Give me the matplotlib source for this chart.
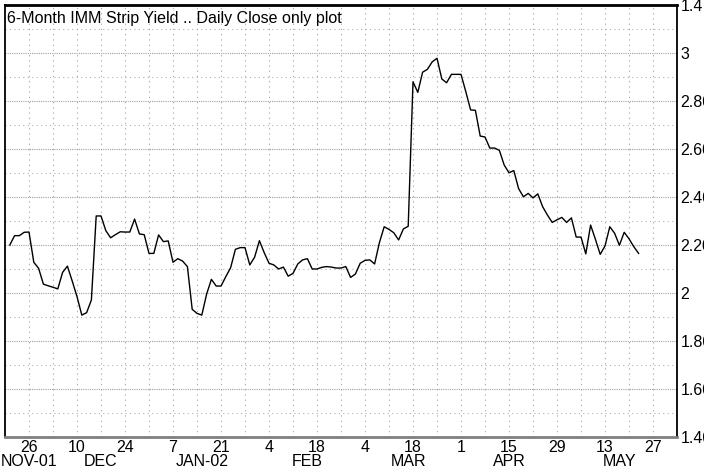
import numpy as np
import pandas as pd
import matplotlib
matplotlib.use("Agg")
import matplotlib.pyplot as plt
from matplotlib.ticker import FixedLocator, MultipleLocator
from matplotlib.transforms import blended_transform_factory

plt.rcParams['font.family'] = ['Liberation Sans', 'DejaVu Sans']

# Weekday axis: first and last slots of the chart window
axis_start = "2001-11-19"
axis_end = "2002-06-03"

# Daily closes, one per weekday starting 2001-11-20
first_close = "2001-11-20"
closes = [
    2.200, 2.239, 2.239, 2.253, 2.254, 2.128, 2.103, 2.037, 2.030, 2.024,
    2.017, 2.086, 2.112, 2.050, 1.985, 1.908, 1.918, 1.971, 2.321, 2.321,
    2.260, 2.230, 2.243, 2.255, 2.254, 2.254, 2.308, 2.246, 2.243, 2.165,
    2.165, 2.242, 2.214, 2.217, 2.128, 2.143, 2.133, 2.110, 1.932, 1.915,
    1.908, 1.995, 2.057, 2.029, 2.029, 2.068, 2.105, 2.182, 2.189, 2.189,
    2.117, 2.149, 2.218, 2.168, 2.124, 2.117, 2.100, 2.108, 2.070, 2.082,
    2.121, 2.138, 2.143, 2.100, 2.100, 2.107, 2.110, 2.108, 2.104, 2.104,
    2.110, 2.065, 2.079, 2.124, 2.136, 2.138, 2.121, 2.210, 2.276, 2.265,
    2.251, 2.221, 2.267, 2.278, 2.880, 2.836, 2.920, 2.932, 2.963, 2.978,
    2.892, 2.876, 2.911, 2.911, 2.911, 2.839, 2.763, 2.761, 2.654, 2.650,
    2.604, 2.604, 2.594, 2.533, 2.501, 2.510, 2.435, 2.401, 2.415, 2.396,
    2.413, 2.360, 2.325, 2.294, 2.305, 2.315, 2.294, 2.313, 2.233, 2.233,
    2.163, 2.283, 2.224, 2.161, 2.196, 2.276, 2.249, 2.199, 2.253, 2.226,
    2.193, 2.165,
]

# Bottom axis: day-of-month labels every second Monday, month names below
day_tick_dates = ["2001-11-26", "2001-12-10", "2001-12-24", "2002-01-07",
                  "2002-01-21", "2002-02-04", "2002-02-18", "2002-03-04",
                  "2002-03-18", "2002-04-01", "2002-04-15", "2002-04-29",
                  "2002-05-13", "2002-05-27"]
day_tick_labels = ["26", "10", "24", "7", "21", "4", "18", "4", "18", "1",
                   "15", "29", "13", "27"]
month_dates = ["2001-11-26", "2001-12-17", "2002-01-15", "2002-02-14",
               "2002-03-15", "2002-04-15", "2002-05-16"]
month_labels = ["NOV-01", "DEC", "JAN-02", "FEB", "MAR", "APR", "MAY"]

# Right axis
y_ticks = [1.4, 1.6, 1.8, 2.0, 2.2, 2.4, 2.6, 2.8, 3.0, 3.2]
y_tick_labels = ["1.40", "1.60", "1.80", "2", "2.20", "2.40", "2.60",
                 "2.80", "3", "1.4"]

title = "6-Month IMM Strip Yield .. Daily Close only plot"


def slot(dates):
    """Position of each date on the weekday axis."""
    d = np.asarray(pd.to_datetime(dates).values, dtype="datetime64[D]")
    return np.busday_count(np.datetime64(axis_start), d)


close_dates = pd.bdate_range(first_close, periods=len(closes))
x = slot(close_dates)
weekly_grid = slot(pd.date_range(day_tick_dates[0], day_tick_dates[-1], freq="7D"))

W, H = 704, 476
fig = plt.figure(figsize=(W / 100, H / 100), dpi=100)
fig.patch.set_facecolor("white")
ax = fig.add_axes([5 / W, 39 / H, 672 / W, 432 / H])

ax.set_xlim(0, slot([axis_end])[0])
ax.set_ylim(1.4, 3.2)

# Grid: weekly verticals, dotted horizontals (denser at labelled levels)
for gx in weekly_grid:
    ax.axvline(gx, color="#b0b0b0", lw=0.8, dashes=(1.2, 3.5), zorder=0)
for gy in np.arange(1.5, 3.2, 0.2):
    ax.axhline(gy, color="#b0b0b0", lw=0.8, dashes=(1, 3), zorder=0)
for gy in y_ticks[1:-1]:
    ax.axhline(gy, color="#a0a0a0", lw=0.8, dashes=(1, 1), zorder=0)

ax.plot(x, closes, color="black", lw=1.0, zorder=3)

# Axes frame
for side in ("left", "right"):
    ax.spines[side].set_color("black")
    ax.spines[side].set_linewidth(1.3)
ax.spines["top"].set_color("black")
ax.spines["top"].set_linewidth(2.0)
ax.spines["bottom"].set_color("#808080")
ax.spines["bottom"].set_linewidth(2.0)

ax.yaxis.tick_right()
ax.yaxis.set_major_locator(FixedLocator(y_ticks))
ax.set_yticklabels(y_tick_labels)
ax.tick_params(axis="y", length=0, pad=2.5, labelsize=11.5, colors="black")

ax.xaxis.set_major_locator(FixedLocator(slot(day_tick_dates)))
ax.set_xticklabels(day_tick_labels)
ax.tick_params(axis="x", length=0, pad=2.0, labelsize=11.5, colors="black")

trans = blended_transform_factory(ax.transData, ax.transAxes)
for md, ml in zip(slot(month_dates), month_labels):
    ax.text(md, -24 / 432, ml, transform=trans, ha="center", va="center",
            fontsize=11.5, clip_on=False)

ax.text(2 / 672, (437 - 23) / 432, title, transform=ax.transAxes,
        ha="left", va="baseline", fontsize=11.5, zorder=4)

fig.savefig("out.png", dpi=100, facecolor="white")
